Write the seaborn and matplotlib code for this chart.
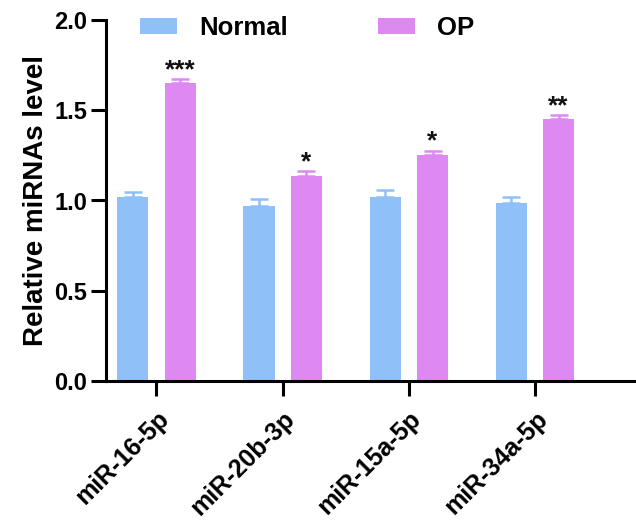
import pandas as pd
import numpy as np
import matplotlib
matplotlib.use("Agg")
import matplotlib.pyplot as plt
import seaborn as sns

# %%
mirnas = ["miR-16-5p", "miR-20b-3p", "miR-15a-5p", "miR-34a-5p"]
groups = ["Normal", "OP"]
normal_mean = [1.02, 0.97, 1.02, 0.985]
normal_sem = [0.027, 0.037, 0.038, 0.033]
op_mean = [1.65, 1.135, 1.25, 1.45]
op_sem = [0.022, 0.027, 0.026, 0.022]
stars = ["***", "*", "*", "**"]

colors = {"Normal": "#8fc0f8", "OP": "#de88f2"}

df = pd.DataFrame({
    "mirna": mirnas * 2,
    "group": ["Normal"] * 4 + ["OP"] * 4,
    "value": normal_mean + op_mean,
})

# %%
sns.set_style("ticks")
plt.rcParams["font.family"] = ["Liberation Sans", "DejaVu Sans"]
plt.rcParams["font.weight"] = "bold"
plt.rcParams["text.color"] = "black"
plt.rcParams["axes.labelcolor"] = "black"
plt.rcParams["xtick.color"] = "black"
plt.rcParams["ytick.color"] = "black"

fig = plt.figure(figsize=(6.36, 5.27), dpi=100)
ax = fig.add_axes([106 / 636, 146 / 527, 1 - 106 / 636, 361 / 527])

sns.barplot(
    data=df, x="mirna", y="value", hue="group",
    palette=colors, width=0.75, gap=0.34, saturation=1,
    errorbar=None, ax=ax, legend=True, linewidth=0,
)

errs = {"Normal": (normal_mean, normal_sem), "OP": (op_mean, op_sem)}
for cont, g in zip(ax.containers, groups):
    means, sems = errs[g]
    xs = [p.get_x() + p.get_width() / 2 for p in cont.patches]
    ax.errorbar(xs, means, yerr=[np.zeros(len(sems)), sems], fmt="none",
                ecolor=colors[g], elinewidth=1.8, capsize=6.5, capthick=1.8)
    if g == "OP":
        for x, m, s, st in zip(xs, means, sems, stars):
            ax.text(x, m + s - 0.015, st, ha="center", va="bottom",
                    fontsize=19, fontweight="bold", color="#111111")

ax.set_ylim(0, 2.0)
ax.set_xlim(-0.4, 3.8)
ax.set_yticks([0, 0.5, 1.0, 1.5, 2.0])
ax.set_yticklabels(["0.0", "0.5", "1.0", "1.5", "2.0"])
ax.set_xlabel("")
ax.set_ylabel("Relative miRNAs level", fontsize=20, fontweight="bold", labelpad=4)

for s in ["left", "bottom"]:
    ax.spines[s].set_linewidth(2.2)
    ax.spines[s].set_color("black")
sns.despine(ax=ax)
ax.tick_params(axis="both", width=2.2, length=10.5, color="black")
ax.tick_params(axis="y", labelsize=17, pad=3)
ax.tick_params(axis="x", labelsize=18, pad=8)
for lab in ax.get_xticklabels():
    lab.set_rotation(45)
    lab.set_ha("right")
    lab.set_rotation_mode("anchor")
    lab.set_fontweight("bold")
for lab in ax.get_yticklabels():
    lab.set_fontweight("bold")

handles, labels = ax.get_legend_handles_labels()
ax.get_legend().remove()
fig.legend(handles, labels, loc="center left",
           bbox_to_anchor=(140 / 636, 1 - 28 / 527), ncol=2, frameon=False,
           borderpad=0, borderaxespad=0, handlelength=1.45, handleheight=0.6,
           handletextpad=0.85, columnspacing=3.5,
           prop={"size": 18.5, "weight": "bold"})

fig.savefig("out.png", dpi=100)
